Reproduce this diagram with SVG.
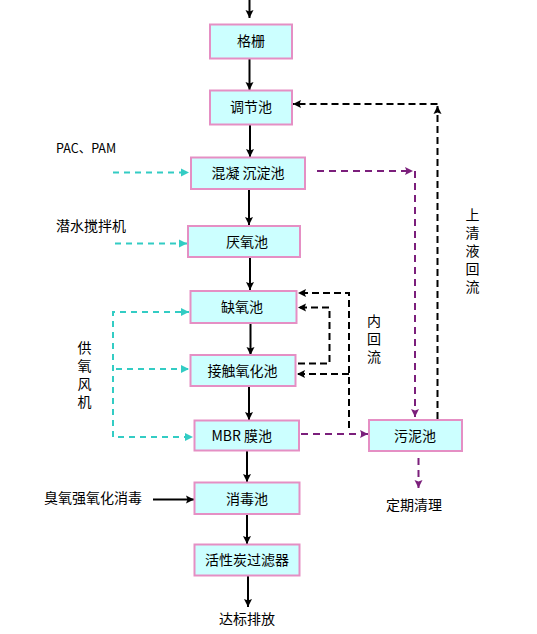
<svg xmlns="http://www.w3.org/2000/svg" width="537" height="634" viewBox="0 0 537 634">
<defs>
<style>
.box{fill:#CCFFFF;stroke:#E58FC4;stroke-width:2}
.t{font-family:"Noto Sans CJK SC","Noto Sans",sans-serif;font-size:14px;fill:#000}
.c{text-anchor:middle}
.v{writing-mode:vertical-rl;letter-spacing:4px}
.solid{fill:none;stroke:#000;stroke-width:2}
.bd{fill:none;stroke:#000;stroke-width:2;stroke-dasharray:7 4}
.cy{fill:none;stroke:#33CCC4;stroke-width:2;stroke-dasharray:6 5}
.pu{fill:none;stroke:#7B1F7B;stroke-width:2;stroke-dasharray:7 5}
</style>
<marker id="ab" markerUnits="userSpaceOnUse" markerWidth="9" markerHeight="9" refX="8" refY="4.5" orient="auto"><path d="M0,0.5 L8,4.5 L0,8.5 L1.5,4.5 z" fill="#000"/></marker>
<marker id="ac" markerUnits="userSpaceOnUse" markerWidth="9" markerHeight="9" refX="8" refY="4.5" orient="auto"><path d="M0,0.5 L8,4.5 L0,8.5 z" fill="#33CCC4"/></marker>
<marker id="ap" markerUnits="userSpaceOnUse" markerWidth="9" markerHeight="9" refX="8" refY="4.5" orient="auto"><path d="M0,0.5 L8,4.5 L0,8.5 L1.5,4.5 z" fill="#7B1F7B"/></marker>
</defs>
<rect width="537" height="634" fill="#fff"/>

<g id="connectors">
<path class="solid" marker-end="url(#ab)" d="M249.5,0 V18"/>
<path class="solid" marker-end="url(#ab)" d="M249.5,58 V90"/>
<path class="solid" marker-end="url(#ab)" d="M250,124 V157"/>
<path class="solid" marker-end="url(#ab)" d="M249,189 V225"/>
<path class="solid" marker-end="url(#ab)" d="M250,257 V290"/>
<path class="solid" marker-end="url(#ab)" d="M250.5,323 V355"/>
<path class="solid" marker-end="url(#ab)" d="M249,386 V420"/>
<path class="solid" marker-end="url(#ab)" d="M247,450 V482"/>
<path class="solid" marker-end="url(#ab)" d="M247,514 V544"/>
<path class="solid" marker-end="url(#ab)" d="M248,576 V607"/>
<path class="solid" marker-end="url(#ab)" d="M153,499.5 H194"/>

<path class="cy" marker-end="url(#ac)" d="M113,172.5 H189"/>
<path class="cy" marker-end="url(#ac)" d="M115,243.5 H187"/>
<path class="cy" marker-end="url(#ac)" d="M113,437 V312 H189"/>
<path class="cy" marker-end="url(#ac)" d="M116,369 H189"/>
<path class="cy" marker-end="url(#ac)" d="M118,437 H193"/>

<path class="pu" marker-end="url(#ap)" d="M317,171 H413"/>
<path class="pu" marker-end="url(#ap)" d="M415,171 V417"/>
<path class="pu" marker-end="url(#ap)" d="M301,434 H368"/>
<path class="pu" marker-end="url(#ap)" d="M418.5,458 V488"/>

<path class="bd" marker-end="url(#ab)" d="M437.5,419 V106"/>
<path class="bd" marker-end="url(#ab)" d="M437.5,104 H293"/>
<path class="bd" marker-end="url(#ab)" d="M349,428 V293 H298"/>
<path class="bd" marker-end="url(#ab)" d="M349,374 H297"/>
<path class="bd" marker-end="url(#ab)" d="M298,363.5 H329.5 V307.5 H298"/>
</g>

<g id="n-geshan"><rect class="box" x="210" y="24.5" width="82" height="34"/><text class="t c" x="251" y="46">格栅</text></g>
<g id="n-tiaojie"><rect class="box" x="210" y="90.5" width="82" height="34"/><text class="t c" x="251" y="112">调节池</text></g>
<g id="n-hunning"><rect class="box" x="191" y="157.5" width="114" height="31.5"/><text class="t c" x="248" y="178">混凝 沉淀池</text></g>
<g id="n-yanyang"><rect class="box" x="188" y="226" width="112" height="31"/><text class="t c" x="247" y="247">厌氧池</text></g>
<g id="n-queyang"><rect class="box" x="190.5" y="291" width="106" height="32"/><text class="t c" x="242" y="312">缺氧池</text></g>
<g id="n-jiechu"><rect class="box" x="190.5" y="355" width="105" height="31"/><text class="t c" x="242.5" y="376">接触氧化池</text></g>
<g id="n-mbr"><rect class="box" x="194.5" y="420.5" width="104.5" height="30"/><text class="t" x="211.5" y="441">MBR 膜池</text></g>
<g id="n-wuni"><rect class="box" x="369" y="420" width="93" height="31"/><text class="t c" x="415" y="441">污泥池</text></g>
<g id="n-xiaodu"><rect class="box" x="194.5" y="482.5" width="105" height="31.5"/><text class="t c" x="247" y="504">消毒池</text></g>
<g id="n-huoxingtan"><rect class="box" x="194.5" y="544.5" width="105" height="31"/><text class="t c" x="247" y="565">活性炭过滤器</text></g>

<g id="l-dabiao"><text class="t c" x="247" y="624">达标排放</text></g>
<g id="l-dingqi"><text class="t c" x="414" y="510">定期清理</text></g>
<g id="l-chouyang"><text class="t" x="44" y="503">臭氧强氧化消毒</text></g>
<g id="l-pac"><text class="t" x="56" y="153" style="font-size:12.5px">PAC、PAM</text></g>
<g id="l-qianshui"><text class="t" x="56" y="231">潜水搅拌机</text></g>
<g id="l-gongyang"><text class="t v" x="84.5" y="341">供氧风机</text></g>
<g id="l-neihuiliu"><text class="t v" x="374" y="314">内回流</text></g>
<g id="l-shangqing"><text class="t v" x="472.5" y="208">上清液回流</text></g>
</svg>
